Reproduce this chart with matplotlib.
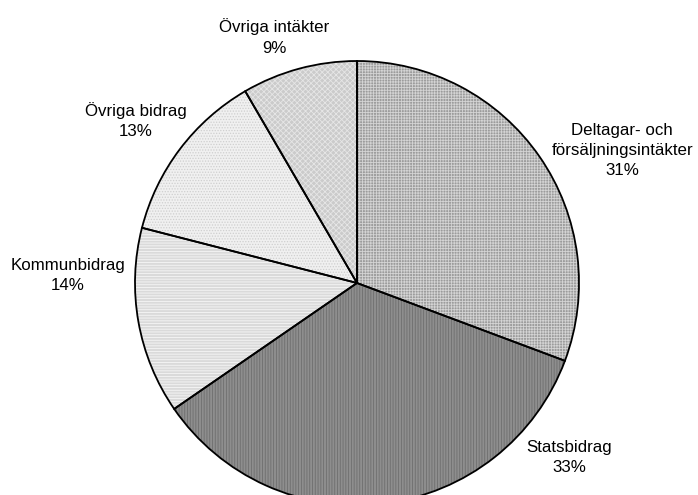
import matplotlib.pyplot as plt

# Intäkter fördelade på källa (andelar lästa ur diagrammet)
kategorier = ['Deltagar- och\nförsäljningsintäkter', 'Statsbidrag', 'Kommunbidrag',
              'Övriga bidrag', 'Övriga intäkter']
andelar = [30.7, 34.7, 13.6, 12.6, 8.4]
procent_text = ['31%', '33%', '14%', '13%', '9%']

# utseende per tårtbit: grundfärg, mönster, mönsterfärg
fargar = ['#9c9c9c', '#8e8e8e', '#dadada', '#f0f0f0', '#cbcbcb']
monster = ['++++++', '||||||', '------', '......', 'xxxxxx']
monsterfarg = ['#d4d4d4', '#6e6e6e', '#f6f6f6', '#cfcfcf', '#e6e6e6']

# etikettplacering (enheter av radien, tårtans mitt i origo)
etikett_x = [1.194, 0.955, -1.302, -0.995, -0.374]
etikett_y = [0.595, -0.786, 0.034, 0.734, 1.108]

plt.rcParams['font.family'] = ['Liberation Sans', 'DejaVu Sans']
plt.rcParams['hatch.linewidth'] = 0.6

fig = plt.figure(figsize=(6.98, 4.95), dpi=100)
ax = fig.add_axes([0, 0, 1, 1])

r = 222.0

# grundfärger
ax.pie(andelar, startangle=90, counterclock=False, colors=fargar,
       wedgeprops=dict(linewidth=0))
# mönster ovanpå
wedges, _ = ax.pie(andelar, startangle=90, counterclock=False,
                   wedgeprops=dict(linewidth=0, fill=False))
for w, h, c in zip(wedges, monster, monsterfarg):
    w.set_hatch(h)
    w.set_edgecolor(c)
# svarta kanter
ax.pie(andelar, startangle=90, counterclock=False,
       wedgeprops=dict(linewidth=1.3, edgecolor='black', fill=False))

ax.set_xlim(-357 / r, (698 - 357) / r)
ax.set_ylim(-(495 - 283) / r, 283 / r)
ax.set_aspect('auto')
ax.axis('off')

for namn, pct, x, y in zip(kategorier, procent_text, etikett_x, etikett_y):
    ax.text(x, y, namn + '\n' + pct, ha='center', va='center',
            fontsize=12.2, linespacing=1.42, color='black')

plt.savefig('out.png', dpi=100)
